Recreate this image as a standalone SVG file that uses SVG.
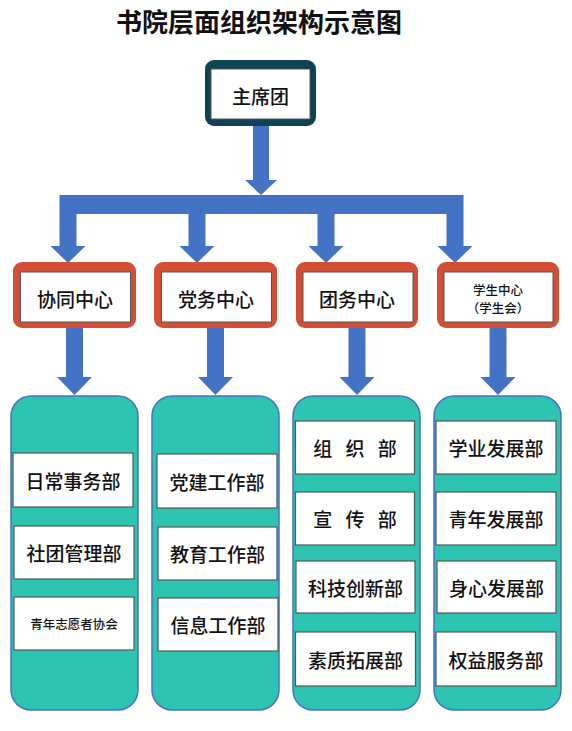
<svg xmlns="http://www.w3.org/2000/svg" width="572" height="731" viewBox="0 0 572 731">
<style>
text{font-family:"Noto Sans CJK SC","Noto Sans CJK TC",sans-serif;fill:#111;text-anchor:middle;dominant-baseline:central;font-weight:500}
.t{font-size:26px;font-weight:700}
.m{font-size:19px}
.s{font-size:12.5px}
.arr{fill:#4472c4}
.red{fill:#d24f35}
.inner{fill:#fff;stroke:#555;stroke-width:1}
.teal{fill:#2ec4b2;stroke:#4a72c4;stroke-width:1.5}
.wb{fill:#fff;stroke:#555;stroke-width:1.2}
</style>
<rect width="572" height="731" fill="#fff"/>
<text class="t" x="259" y="20">书院层面组织架构示意图</text>

<g id="connectors">
<polygon class="arr" points="253,124 269,124 269,180 277,180 261,195 245,180 253,180"/>
<rect class="arr" x="59.5" y="195" width="404" height="19"/>
<polygon class="arr" points="59.5,214 76.5,214 76.5,246 85.5,246 68,263 50.5,246 59.5,246"/>
<polygon class="arr" points="188.5,214 205.5,214 205.5,246 214.5,246 197,263 179.5,246 188.5,246"/>
<polygon class="arr" points="317.5,214 334.5,214 334.5,246 343.5,246 326,263 308.5,246 317.5,246"/>
<polygon class="arr" points="446.5,214 463.5,214 463.5,246 472.5,246 455,263 437.5,246 446.5,246"/>
<polygon class="arr" points="66,328 83,328 83,377 92,377 74.5,395 57,377 66,377"/>
<polygon class="arr" points="207,328 224,328 224,377 233,377 215.5,395 198,377 207,377"/>
<polygon class="arr" points="348.5,328 365.5,328 365.5,377 374.5,377 357,395 339.5,377 348.5,377"/>
<polygon class="arr" points="489.5,328 506.5,328 506.5,377 515.5,377 498,395 480.5,377 489.5,377"/>
</g>

<g id="zhuxituan">
<rect x="205" y="60" width="111" height="66" rx="9" fill="#0e4353"/>
<rect class="inner" x="211" y="69" width="99" height="50"/>
<text class="m" x="260.5" y="95">主席团</text>
</g>

<g id="xietong">
<rect class="red" x="13" y="262" width="123" height="66" rx="9"/>
<rect class="inner" x="20.5" y="272" width="110" height="50"/>
<text class="m" x="75" y="298">协同中心</text>
</g>
<g id="dangwu">
<rect class="red" x="154" y="262" width="123" height="66" rx="9"/>
<rect class="inner" x="161.5" y="272" width="110" height="50"/>
<text class="m" x="216" y="298">党务中心</text>
</g>
<g id="tuanwu">
<rect class="red" x="296" y="262" width="122" height="66" rx="9"/>
<rect class="inner" x="303" y="272" width="110" height="50"/>
<text class="m" x="357" y="298">团务中心</text>
</g>
<g id="xuesheng">
<rect class="red" x="437" y="262" width="122" height="66" rx="9"/>
<rect class="inner" x="444" y="272" width="109" height="50"/>
<text class="s" x="498" y="289">学生中心</text>
<text class="s" x="498" y="307">（学生会）</text>
</g>

<g id="col1">
<rect class="teal" x="11" y="396" width="127" height="314" rx="20"/>
<g id="richang"><rect class="wb" x="13" y="453" width="120" height="54"/><text class="m" x="73" y="480">日常事务部</text></g>
<g id="shetuan"><rect class="wb" x="14" y="526" width="120" height="53"/><text class="m" x="74" y="552.5">社团管理部</text></g>
<g id="zhiyuan"><rect class="wb" x="14" y="597" width="120" height="53"/><text class="s" x="74" y="623.5">青年志愿者协会</text></g>
</g>
<g id="col2">
<rect class="teal" x="152" y="396" width="127" height="314" rx="20"/>
<g id="dangjian"><rect class="wb" x="157" y="454" width="120" height="54"/><text class="m" x="217" y="481">党建工作部</text></g>
<g id="jiaoyu"><rect class="wb" x="158" y="527" width="119" height="53"/><text class="m" x="217.5" y="553.5">教育工作部</text></g>
<g id="xinxi"><rect class="wb" x="158" y="598" width="120" height="53"/><text class="m" x="218" y="624.5">信息工作部</text></g>
</g>
<g id="col3">
<rect class="teal" x="293" y="396" width="127" height="314" rx="20"/>
<g id="zuzhi"><rect class="wb" x="295.5" y="421" width="119" height="53"/><text class="m" x="355" y="447.5" word-spacing="9">组 织 部</text></g>
<g id="xuanchuan"><rect class="wb" x="295.5" y="492" width="119" height="53"/><text class="m" x="355" y="518.5" word-spacing="9">宣 传 部</text></g>
<g id="keji"><rect class="wb" x="296" y="561" width="119" height="52"/><text class="m" x="355.5" y="587">科技创新部</text></g>
<g id="suzhi"><rect class="wb" x="295.5" y="632" width="120" height="54"/><text class="m" x="355.5" y="659">素质拓展部</text></g>
</g>
<g id="col4">
<rect class="teal" x="434" y="396" width="127" height="314" rx="20"/>
<g id="xueye"><rect class="wb" x="436" y="421" width="120" height="53"/><text class="m" x="496" y="447.5">学业发展部</text></g>
<g id="qingnian"><rect class="wb" x="436" y="492" width="120" height="53"/><text class="m" x="496" y="518.5">青年发展部</text></g>
<g id="shenxin"><rect class="wb" x="437" y="561" width="119" height="52"/><text class="m" x="496.5" y="587">身心发展部</text></g>
<g id="quanyi"><rect class="wb" x="436" y="632" width="120" height="54"/><text class="m" x="496" y="659">权益服务部</text></g>
</g>
</svg>
